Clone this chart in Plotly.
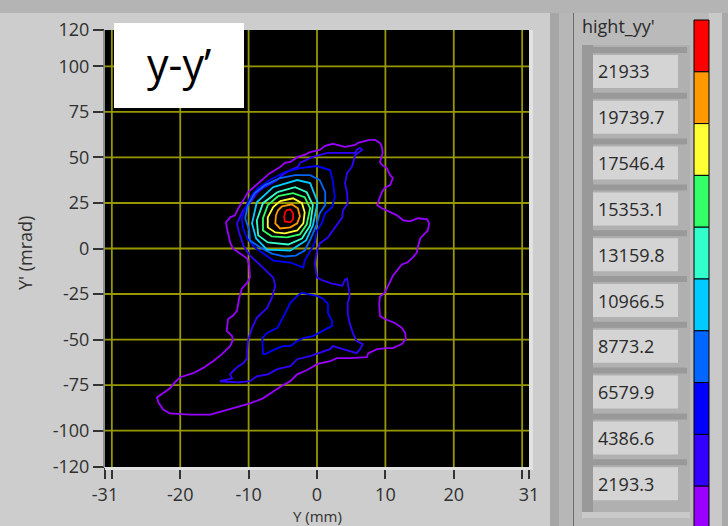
import plotly.graph_objects as go

# Contour levels (legend, top to bottom) and their line colours
LEVELS = [21933, 19739.7, 17546.4, 15353.1, 13159.8, 10966.5, 8773.2, 6579.9, 4386.6, 2193.3]
LEVEL_LABELS = ["21933", "19739.7", "17546.4", "15353.1", "13159.8",
                "10966.5", "8773.2", "6579.9", "4386.6", "2193.3"]
LEVEL_COLORS = ["#ff0000", "#ff9900", "#ffff33", "#33ff66", "#33ffcc",
                "#00ccff", "#0066ff", "#0000ff", "#3300ff", "#9900ff"]

# Axis ticks and grid
X_TICKS = [-31, -20, -10, 0, 10, 20, 31]
X_MINOR = [-30, 30]
X_GRID = [-30, -20, -10, 0, 10, 20, 30]
Y_TICKS = [-120, -100, -75, -50, -25, 0, 25, 50, 75, 100, 120]
Y_GRID = [-100, -75, -50, -25, 0, 25, 50, 75, 100]

# Iso-lines of the y-y' phase space, points as (Y [mm], Y' [mrad])
RING_2193 = [(-13.2, 11.6), (-13.3, 14.4), (-12.7, 17.1), (-12.0, 18.2), (-11.5, 22.1), (-11.0, 24.9),
             (-10.5, 28.2), (-10.1, 30.9), (-9.4, 33.2), (-8.8, 34.8), (-7.6, 38.7), (-6.9, 41.4),
             (-6.1, 43.1), (-5.4, 44.8), (-4.7, 47.0), (-3.9, 47.5), (-2.8, 50.3), (-1.8, 51.4),
             (-1.0, 53.0), (0.4, 54.1), (1.2, 56.4), (2.3, 57.5), (4.1, 55.8), (5.6, 56.9), (6.0, 58.0),
             (7.7, 59.7), (8.5, 59.7), (9.2, 58.0), (9.5, 55.8), (9.6, 52.5), (9.2, 47.5), (9.5, 45.9),
             (10.2, 44.2), (10.7, 40.3), (11.1, 38.7), (10.7, 34.8), (9.9, 33.2), (9.5, 30.9),
             (9.2, 28.2), (8.8, 23.8), (9.5, 22.1), (10.7, 19.9), (11.7, 18.2), (12.6, 15.5),
             (13.6, 14.9), (14.8, 16.6), (16.1, 16.0), (16.4, 13.8), (16.2, 9.9), (15.8, 8.3),
             (15.1, 5.5), (14.8, 1.7), (14.6, -2.2), (14.0, -5.0), (13.2, -7.7), (12.4, -8.8),
             (11.6, -12.2), (11.1, -14.9), (10.7, -18.2), (9.9, -24.3), (9.2, -26.5), (9.1, -30.4),
             (9.2, -37.0), (9.9, -38.7), (11.4, -40.9), (12.4, -43.6), (12.9, -46.4), (13.0, -49.7),
             (12.4, -52.5), (11.1, -54.7), (10.2, -54.7), (8.8, -55.3), (7.5, -57.5), (7.3, -59.7),
             (4.8, -60.2), (2.9, -60.2), (1.9, -61.9), (0.0, -63.5), (-1.5, -66.9), (-2.9, -69.1),
             (-3.9, -72.9), (-5.0, -75.1), (-6.4, -78.5), (-7.9, -82.3), (-9.8, -85.1), (-11.3, -86.7),
             (-13.2, -88.4), (-15.6, -91.2), (-18.6, -91.2), (-21.5, -90.6), (-22.5, -88.4),
             (-23.2, -84.5), (-23.4, -81.8), (-22.5, -79.6), (-21.5, -76.8), (-20.8, -73.5),
             (-20.0, -70.7), (-18.1, -68.5), (-16.7, -65.7), (-15.2, -61.9), (-13.9, -58.0),
             (-12.7, -53.6), (-12.3, -50.3), (-12.4, -48.1), (-13.2, -45.3), (-13.0, -38.7),
             (-12.3, -37.0), (-11.7, -34.3), (-11.4, -27.6), (-11.0, -22.1), (-10.2, -18.8),
             (-9.8, -16.0), (-9.9, -9.4), (-10.2, -5.5), (-11.3, -2.8), (-12.3, 0.0), (-12.7, 3.3),
             (-13.0, 8.3)]

RING_4386 = [(-2.5, 47.0), (-0.6, 50.3), (1.5, 52.5), (3.4, 52.5), (5.6, 52.5), (5.8, 54.1), (6.3, 55.3),
             (6.6, 54.1), (5.6, 51.4), (5.1, 44.8), (4.4, 41.4), (4.1, 35.9), (4.4, 30.4), (4.5, 24.9),
             (3.8, 21.0), (3.7, 17.1), (2.9, 12.7), (2.3, 9.9), (1.6, 6.1), (0.4, 2.8), (0.0, -1.1),
             (-0.3, -8.3), (0.0, -16.0), (0.9, -17.7), (2.2, -19.3), (3.7, -20.4), (4.1, -17.1),
             (4.4, -16.6), (4.5, -19.3), (4.8, -26.0), (4.5, -29.8), (4.5, -35.9), (4.8, -41.4),
             (5.3, -47.0), (5.8, -50.8), (6.7, -52.5), (6.3, -55.3), (5.8, -57.5), (3.8, -55.3),
             (2.3, -53.6), (1.9, -55.3), (0.0, -58.0), (-1.0, -59.1), (-2.9, -60.8), (-3.9, -64.6),
             (-5.8, -66.3), (-7.2, -69.1), (-8.8, -70.2), (-9.8, -72.9), (-11.5, -73.5), (-14.2, -72.9),
             (-12.4, -71.3), (-12.7, -69.1), (-12.3, -67.4), (-11.5, -64.6), (-10.8, -63.0),
             (-10.2, -60.2), (-10.2, -56.4), (-10.1, -50.8), (-9.5, -43.6), (-8.8, -38.1),
             (-7.3, -32.6), (-6.6, -27.1), (-6.1, -20.4), (-6.4, -16.0), (-7.9, -10.5), (-9.8, -3.9),
             (-10.7, 1.1), (-11.4, 8.8), (-11.7, 13.8), (-11.3, 17.1), (-10.8, 21.0), (-10.1, 23.8),
             (-9.5, 26.5), (-8.8, 30.4), (-7.9, 33.2), (-6.6, 35.9), (-5.8, 37.6), (-5.1, 40.3),
             (-3.9, 43.1), (-2.8, 44.8)]

RING_6579_CORE = [(-10.8, 11.0), (-11.0, 16.6), (-10.5, 22.1), (-9.8, 28.2), (-8.6, 33.2), (-6.9, 37.6),
                  (-4.7, 42.0), (-2.5, 44.2), (0.0, 45.3), (1.9, 43.1), (2.3, 37.6), (2.6, 28.2),
                  (2.2, 22.7), (1.2, 19.3), (0.7, 13.8), (0.0, 9.9), (-0.3, 3.3), (-1.8, -6.6),
                  (-2.0, -10.5), (-3.9, -7.7), (-6.4, -6.6), (-8.0, -2.2), (-9.1, 0.6), (-10.2, 5.5)]

RING_6579_TAIL = [(-7.9, -58.0), (-8.0, -49.2), (-7.3, -46.4), (-5.8, -43.6), (-5.0, -38.1), (-3.9, -29.8),
                  (-2.9, -26.0), (-2.2, -24.3), (-1.5, -24.9), (0.0, -26.0), (0.9, -27.6), (1.6, -30.4),
                  (1.6, -35.4), (2.2, -39.8), (2.2, -42.5), (0.9, -45.3), (-0.6, -48.1), (-2.0, -49.2),
                  (-2.9, -50.8), (-3.9, -53.6), (-5.0, -53.6), (-6.1, -55.3), (-7.6, -58.0)]

RING_8773 = [(-9.9, 9.9), (-10.5, 16.6), (-10.1, 23.8), (-9.1, 30.4), (-7.6, 34.8), (-5.4, 38.7),
             (-3.2, 40.3), (-1.0, 40.3), (0.4, 37.6), (1.2, 30.9), (1.2, 23.8), (0.4, 19.3),
             (-0.1, 12.7), (-0.9, 5.5), (-1.8, -1.1), (-3.1, -3.9), (-4.7, -4.4), (-6.6, -2.8),
             (-8.3, 0.6), (-9.8, 4.4)]

RING_10966 = [(-6.4, 33.7), (-2.9, 37.6), (-1.0, 35.9), (0.1, 25.4), (-0.6, 12.7), (-1.6, 4.4),
              (-3.9, -1.1), (-7.3, -0.6), (-8.9, 5.5), (-9.5, 13.8), (-8.8, 25.4)]

RING_13159 = [(-5.8, 30.9), (-3.2, 33.7), (-1.5, 30.9), (-0.6, 23.8), (-1.0, 12.7), (-2.2, 5.5),
              (-4.2, 2.2), (-7.2, 3.3), (-8.6, 7.2), (-8.8, 15.5), (-7.9, 24.9)]

RING_15353 = [(-5.7, 28.7), (-3.5, 30.4), (-1.8, 28.2), (-1.0, 22.1), (-1.5, 13.3), (-2.5, 7.7),
              (-4.4, 6.1), (-6.6, 6.6), (-7.9, 9.9), (-7.9, 16.6), (-7.2, 23.8)]

RING_17546 = [(-5.4, 26.0), (-3.5, 27.6), (-2.2, 24.9), (-1.8, 19.9), (-2.0, 13.8), (-2.9, 9.9),
              (-4.7, 8.3), (-6.1, 8.8), (-7.2, 11.6), (-7.2, 17.1), (-6.4, 22.7)]

RING_19739 = [(-5.1, 23.2), (-3.7, 24.3), (-2.8, 22.1), (-2.5, 17.7), (-2.9, 13.8), (-3.9, 11.6),
              (-5.4, 11.0), (-6.1, 13.8), (-6.0, 18.2), (-5.7, 21.0)]

RING_21933 = [(-4.5, 21.0), (-3.9, 21.5), (-3.5, 19.3), (-3.5, 16.0), (-3.9, 14.4), (-4.7, 14.9),
              (-4.8, 17.1), (-4.7, 19.3)]

CONTOURS = [
    (2193.3, [RING_2193]),
    (4386.6, [RING_4386]),
    (6579.9, [RING_6579_CORE, RING_6579_TAIL]),
    (8773.2, [RING_8773]),
    (10966.5, [RING_10966]),
    (13159.8, [RING_13159]),
    (15353.1, [RING_15353]),
    (17546.4, [RING_17546]),
    (19739.7, [RING_19739]),
    (21933, [RING_21933]),
]

# ---- page geometry (pixels) ----
W, H = 728, 526
PL, PR, PT, PB = 105, 529, 30, 467


def fx(x):
    return (x - PL) / (PR - PL)


def fy(y):
    return (PB - y) / (PB - PT)


TEXT = "#303030"
FONT = "Open Sans"
GRID = "#979700"

fig = go.Figure()

for level, rings in CONTOURS:
    color = LEVEL_COLORS[LEVELS.index(level)]
    for ring in rings:
        xs = [p[0] for p in ring] + [ring[0][0]]
        ys = [p[1] for p in ring] + [ring[0][1]]
        fig.add_trace(go.Scatter(x=xs, y=ys, mode="lines",
                                 line=dict(color=color, width=1.8),
                                 hoverinfo="skip", showlegend=False))

shapes = []
annotations = []

# grid
for gx in X_GRID:
    shapes.append(dict(type="line", xref="x", yref="paper", x0=gx, x1=gx, y0=0, y1=1,
                       line=dict(color=GRID, width=1.8), layer="below"))
for gy in Y_GRID:
    shapes.append(dict(type="line", xref="paper", yref="y", x0=0, x1=1, y0=gy, y1=gy,
                       line=dict(color=GRID, width=1.8), layer="below"))

# window background band
shapes.append(dict(type="rect", xref="paper", yref="paper", x0=fx(0), x1=fx(W), y0=fy(0), y1=fy(13),
                   fillcolor="#b4b4b4", line=dict(width=0), layer="below"))
# sunken frame of the plot
shapes.append(dict(type="line", xref="paper", yref="paper", x0=fx(PL - 1), x1=fx(PL - 1), y0=fy(PB), y1=fy(PT),
                   line=dict(color="#7a7a7a", width=1.5), layer="above"))
shapes.append(dict(type="rect", xref="paper", yref="paper", x0=fx(PR), x1=fx(PR + 4), y0=fy(PB + 3), y1=fy(PT),
                   fillcolor="#e2e2e2", line=dict(width=0), layer="above"))
shapes.append(dict(type="rect", xref="paper", yref="paper", x0=fx(PL), x1=fx(PR + 4), y0=fy(PB + 3), y1=fy(PB),
                   fillcolor="#e2e2e2", line=dict(width=0), layer="above"))

# title box inside the plot
shapes.append(dict(type="rect", xref="paper", yref="paper", x0=fx(114), x1=fx(244), y0=fy(108), y1=fy(23),
                   fillcolor="white", line=dict(width=0), layer="above"))
annotations.append(dict(text="y-y\u2019", xref="paper", yref="paper", x=fx(179), y=fy(64),
                        xanchor="center", yanchor="middle", showarrow=False,
                        font=dict(family=FONT, size=43, color="black")))

# ---- legend panel on the right ----
panel = [
    (550, 559, 13, H, "#a6a6a6"),
    (559, 573, 13, H, "#b7b7b7"),
    (573, 574, 13, H, "#6c6c6c"),
    (574, 722, 13, H, "#bababa"),
    (709, 722, 13, H, "#c9c9c9"),
    (722, W, 13, H, "#a9a9a9"),
    (582, 690, 45, 518, "#b0b0b0"),
    (582, 593, 45, 518, "#999999"),
    (582, 690, 512, 518, "#c9c9c9"),
]
for x0, x1, y0, y1, c in panel:
    shapes.append(dict(type="rect", xref="paper", yref="paper", x0=fx(x0), x1=fx(x1), y0=fy(y1), y1=fy(y0),
                       fillcolor=c, line=dict(width=0), layer="above"))

annotations.append(dict(text="hight_yy'", xref="paper", yref="paper", x=fx(580), y=fy(26),
                        xanchor="left", yanchor="middle", showarrow=False,
                        font=dict(family=FONT, size=18, color="#2a2a2a")))

CELL_TOP, CELL_STEP = 55, 45.8
for i, label in enumerate(LEVEL_LABELS):
    top = CELL_TOP + CELL_STEP * i
    shapes.append(dict(type="rect", xref="paper", yref="paper", x0=fx(582), x1=fx(687),
                       y0=fy(top - 2), y1=fy(top - 8), fillcolor="#999999", line=dict(width=0), layer="above"))
    shapes.append(dict(type="rect", xref="paper", yref="paper", x0=fx(593), x1=fx(678),
                       y0=fy(top + 33), y1=fy(top), fillcolor="#d4d4d4", line=dict(width=0), layer="above"))
    annotations.append(dict(text=label, xref="paper", yref="paper", x=fx(596), y=fy(top + 16.5),
                            xanchor="left", yanchor="middle", showarrow=False,
                            font=dict(family=FONT, size=18, color="#2a2a2a")))

# colour scale strip
BAR_TOP, BAR_STEP = 20, 51.8
for i, c in enumerate(LEVEL_COLORS):
    y0 = BAR_TOP + BAR_STEP * i
    shapes.append(dict(type="rect", xref="paper", yref="paper", x0=fx(694), x1=fx(709),
                       y0=fy(y0 + BAR_STEP), y1=fy(y0), fillcolor=c,
                       line=dict(color="black", width=1), layer="above"))

# axis titles
annotations.append(dict(text="Y' (mrad)", xref="paper", yref="paper", x=fx(25), y=fy(253),
                        textangle=-90, xanchor="center", yanchor="middle", showarrow=False,
                        font=dict(family=FONT, size=18, color=TEXT)))
annotations.append(dict(text="Y (mm)", xref="paper", yref="paper", x=fx(317), y=fy(515.5),
                        xanchor="center", yanchor="middle", showarrow=False,
                        font=dict(family=FONT, size=15, color=TEXT)))

fig.update_layout(
    width=W, height=H, autosize=False,
    margin=dict(l=PL, r=W - PR, t=PT, b=H - PB, pad=0),
    paper_bgcolor="#cdcdcd", plot_bgcolor="black",
    showlegend=False,
    shapes=shapes, annotations=annotations,
    font=dict(family=FONT, size=18, color=TEXT),
)
fig.update_xaxes(range=[-31, 31], showgrid=False, zeroline=False, showline=False,
                 tickmode="array", tickvals=X_TICKS, ticktext=[str(v) for v in X_TICKS],
                 ticks="outside", ticklen=11, tickwidth=1.5, tickcolor="#333333",
                 tickfont=dict(family=FONT, size=18, color=TEXT),
                 minor=dict(tickmode="array", tickvals=X_MINOR, ticks="outside", ticklen=11,
                            tickwidth=1.5, tickcolor="#333333", showgrid=False))
fig.update_yaxes(range=[-120, 120], showgrid=False, zeroline=False, showline=False,
                 tickmode="array", tickvals=Y_TICKS, ticktext=[str(v) for v in Y_TICKS],
                 ticks="outside", ticklen=11, tickwidth=1.5, tickcolor="#333333",
                 tickfont=dict(family=FONT, size=18, color=TEXT))

fig.write_html("out.html")
